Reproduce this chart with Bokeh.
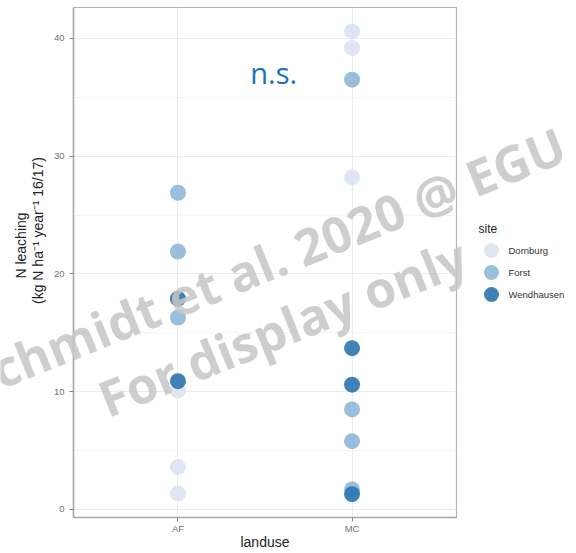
import math
from bokeh.plotting import figure
from bokeh.layouts import row
from bokeh.models import ColumnDataSource, FixedTicker, Label
from bokeh.core.properties import value
from bokeh.embed import file_html
from bokeh.resources import INLINE

# ---- data ----
landuse_levels = ["AF", "MC"]
site_levels = ["Dornburg", "Forst", "Wendhausen"]
site_colors = ["#dce3ef", "#8fb8d6", "#2e72b0"]

af_dornburg = [10.1, 3.6, 1.35]
af_forst = [26.9, 21.9, 16.3]
af_wendhausen = [17.9, 10.9]
mc_dornburg = [40.6, 39.2, 28.2]
mc_forst = [36.5, 8.5, 5.8, 1.7]
mc_wendhausen = [13.7, 10.6, 1.3]

y_ticks = [0, 10, 20, 30, 40]
y_minor = [5, 15, 25, 35]

x_title = "landuse"
y_title_lines = ["N leaching", "(kg N ha\u207b\u00b9 year\u207b\u00b9 16/17)"]
watermark_lines = ["Schmidt et al. 2020 @ EGU", "For display only"]

series = {
    ("AF", "Dornburg"): af_dornburg,
    ("AF", "Forst"): af_forst,
    ("AF", "Wendhausen"): af_wendhausen,
    ("MC", "Dornburg"): mc_dornburg,
    ("MC", "Forst"): mc_forst,
    ("MC", "Wendhausen"): mc_wendhausen,
}

W, H = 576, 553
PW = 458
FT, FB = 7, 517   # frame top / bottom in page pixels
p = figure(width=PW, height=H, output_backend="svg", toolbar_location=None,
           x_range=(0.4, 2.6), y_range=(-0.68, 42.63),
           min_border_left=73, min_border_right=2, min_border_top=FT, min_border_bottom=H - FB)
p.background_fill_color = "white"
p.border_fill_color = "white"
p.outline_line_color = "#b3b3b3"
p.outline_line_width = 1.2

# grids
p.xgrid.ticker = FixedTicker(ticks=[1, 2])
p.ygrid.ticker = FixedTicker(ticks=y_ticks, minor_ticks=y_minor)
p.xgrid.grid_line_color = "#ebebeb"
p.ygrid.grid_line_color = "#ebebeb"
p.ygrid.minor_grid_line_color = "#f4f4f4"

# axes
p.xaxis.ticker = FixedTicker(ticks=[1, 2])
p.xaxis.major_label_overrides = {i + 1: lab for i, lab in enumerate(landuse_levels)}
p.yaxis.ticker = FixedTicker(ticks=y_ticks)
for ax in (p.xaxis, p.yaxis):
    ax.axis_line_color = "#a6a6a6"
    ax.axis_line_width = 1.5
    ax.major_tick_line_color = "#888888"
    ax.major_tick_out = 4
    ax.major_tick_in = 0
    ax.minor_tick_line_color = None
    ax.major_label_text_color = "#707070"
    ax.major_label_text_font_size = "9.5px"
    ax.major_label_text_font = "Liberation Sans"
    ax.axis_label_text_font = "Liberation Sans"
    ax.axis_label_text_font_style = "normal"
    ax.axis_label_text_font_size = "14px"
    ax.axis_label_text_color = "#222222"
p.xaxis.axis_label = x_title
p.xaxis.major_label_standoff = 1
p.xaxis.axis_label_standoff = -3
p.yaxis.major_label_standoff = 5

# points
for s_idx, site in enumerate(site_levels):
    xs, ys = [], []
    for l_idx, lu in enumerate(landuse_levels):
        vals = series[(lu, site)]
        xs += [l_idx + 1] * len(vals)
        ys += vals
    src = ColumnDataSource(dict(x=xs, y=ys))
    p.scatter("x", "y", source=src, size=16, fill_color=site_colors[s_idx],
              line_color=None, fill_alpha=0.9)

# annotation
p.add_layout(Label(x=1.55, y=37.1, text="n.s.", text_align="center", text_baseline="middle",
                   text_font="Open Sans", text_font_size="29px", text_color="#1a70c0"))

# ---- legend panel (separate figure; its frame is aligned with the main frame) ----
LW = W - PW
lg = figure(width=LW, height=H, output_backend="svg", toolbar_location=None,
            x_range=(0, LW), y_range=(FB, FT), x_axis_type=None, y_axis_type=None,
            min_border_left=0, min_border_right=0, min_border_top=FT, min_border_bottom=H - FB)
lg.outline_line_color = None
lg.grid.visible = False
lg.background_fill_color = "white"
lg.border_fill_color = "white"

leg_top = 250
leg_pitch = 22
leg_src = ColumnDataSource(dict(
    x=[33] * len(site_levels),
    y=[leg_top + i * leg_pitch for i in range(len(site_levels))],
    tx=[50] * len(site_levels),
    label=site_levels,
    color=site_colors,
))
lg.scatter("x", "y", source=leg_src, size=15, fill_color="color", line_color=None, fill_alpha=0.9)
lg.text("tx", "y", text="label", source=leg_src, text_font=value("Liberation Sans"),
        text_font_size="9.5px", text_color="#333333", text_baseline="middle")
lg.text(x=[20], y=[leg_top - 22], text=["site"], text_font=value("Liberation Sans"),
        text_font_size="12px", text_color="#222222", text_baseline="middle")

# ---- overlay (transparent figure over the whole page): y title + watermark ----
wm = figure(width=W, height=H, output_backend="svg", toolbar_location=None,
            x_range=(0, W), y_range=(FB, FT), x_axis_type=None, y_axis_type=None,
            min_border_left=0, min_border_right=0, min_border_top=FT, min_border_bottom=H - FB,
            styles={"position": "absolute", "left": "0px", "top": "0px",
                    "pointer-events": "none"})
wm.outline_line_color = None
wm.grid.visible = False
wm.background_fill_alpha = 0
wm.border_fill_alpha = 0

wm.text(x=[20, 37], y=[245, 230], text=y_title_lines, angle=math.pi / 2,
        text_align="center", text_baseline="middle", text_font=value("Liberation Sans"),
        text_font_size="14px", text_color="#222222")

wm_angle = 22 * math.pi / 180
wm.text(x=[265, 282], y=[262, 327], text=watermark_lines, angle=wm_angle,
        text_align="center", text_baseline="middle", text_font=value("Open Sans"),
        text_font_style="bold", text_font_size="50px", text_color="#c6c6c6",
        text_alpha=0.85)

layout = row(p, lg, wm, spacing=0)
open("out.html", "w").write(file_html(layout, INLINE))
